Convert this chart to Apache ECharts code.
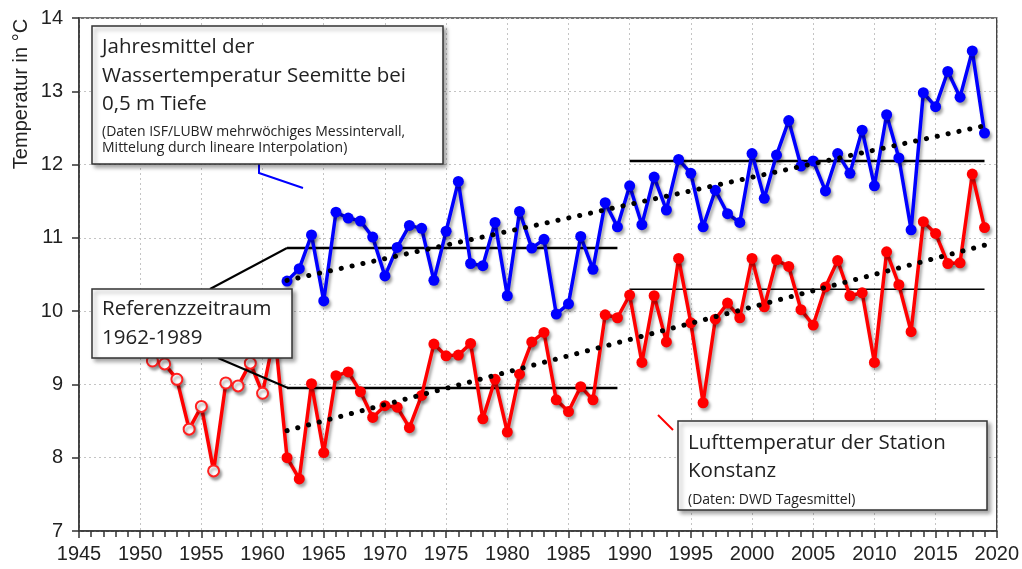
<!DOCTYPE html>
<html>
<head>
<meta charset="utf-8">
<script src="https://cdn.jsdelivr.net/npm/echarts@6/dist/echarts.min.js"></script>
<style>
html,body{margin:0;padding:0;background:#fff;}
#chart{width:1022px;height:569px;}
</style>
</head>
<body>
<div id="chart"></div>
<script>
// ---- data ----
const waterStartYear = 1962;
const waterTemp = [10.41,10.58,11.04,10.14,11.35,11.27,11.23,11.01,10.48,10.87,
  11.17,11.13,10.42,11.09,11.77,10.65,10.62,11.21,10.21,11.36,
  10.86,10.98,9.96,10.10,11.02,10.57,11.48,11.15,11.71,11.18,
  11.83,11.38,12.07,11.88,11.15,11.65,11.33,11.21,12.15,11.54,
  12.13,12.60,11.98,12.05,11.64,12.15,11.88,12.47,11.71,12.68,
  12.09,11.11,12.98,12.79,13.27,12.92,13.55,12.43];
const airStartYear = 1950;
const airTemp = [9.60,9.32,9.28,9.07,8.39,8.70,7.82,9.02,8.98,9.29,
  8.88,9.70,8.00,7.71,9.01,8.07,9.12,9.17,8.90,8.55,
  8.71,8.69,8.41,8.85,9.55,9.39,9.40,9.56,8.53,9.07,
  8.35,9.14,9.58,9.71,8.79,8.63,8.97,8.79,9.95,9.91,
  10.22,9.30,10.21,9.58,10.72,9.84,8.75,9.89,10.11,9.91,
  10.72,10.06,10.70,10.61,10.02,9.81,10.33,10.69,10.21,10.25,
  9.30,10.81,10.36,9.72,11.22,11.06,10.65,10.66,11.87,11.14];
const airFilledFrom = 1962;
const waterTrend = [[1962,10.42],[2019,12.53]];
const airTrend = [[1962,8.37],[2019,10.90]];
const waterRef1 = [[1962,10.86],[1989,10.86]];
const airRef1 = [[1962,8.95],[1989,8.95]];
const waterRef2 = [[1990,12.05],[2019,12.05]];
const airRef2 = [[1990,10.30],[2019,10.30]];
const xTicks = [1945,1950,1955,1960,1965,1970,1975,1980,1985,1990,1995,2000,2005,2010,2015,2020];
const yTicks = [7,8,9,10,11,12,13,14];

// ---- build ----
const waterData = waterTemp.map((v,i)=>[waterStartYear+i, v]);
const airData = airTemp.map((v,i)=>{
  const y = airStartYear+i;
  if (y < airFilledFrom) return {value:[y,v], itemStyle:{color:'#fff', borderColor:'#ff2020', borderWidth:2}};
  return [y,v];
});

const shadow = {shadowColor:'rgba(0,0,0,0.35)', shadowBlur:3, shadowOffsetX:2, shadowOffsetY:3};
const boxFont = '"Open Sans", Lato, sans-serif';
const axisFont = '"Liberation Sans", Arial, sans-serif';

function box(x,y,w,h){
  return {type:'rect', z:100, shape:{x:x,y:y,width:w,height:h},
    style:{fill:'#fff', stroke:'#333', lineWidth:1.5, shadowColor:'rgba(0,0,0,0.35)', shadowBlur:4, shadowOffsetX:3, shadowOffsetY:3}};
}
function txt(x,y,t,size){
  return {type:'text', z:101, x:x, y:y, style:{text:t, font: size+'px '+boxFont, fill:'#222', verticalAlign:'middle'}};
}
function pl(points,color){
  return {type:'polyline', z:99, shape:{points:points}, style:{stroke:color, lineWidth:2, fill:null}};
}

const chart = echarts.init(document.getElementById('chart'));
chart.setOption({
  animation:false,
  grid:{left:79, right:25, top:18, bottom:38, show:true, borderColor:'#444', borderWidth:1.5, backgroundColor:'transparent'},
  xAxis:{type:'value', min:xTicks[0], max:xTicks[xTicks.length-1], interval:5,
    axisLine:{lineStyle:{color:'#333', width:1.5}},
    axisTick:{show:true, length:7, lineStyle:{color:'#333', width:1.5}},
    minorTick:{show:true, splitNumber:5, length:6, lineStyle:{color:'#333', width:1.5}},
    axisLabel:{fontFamily:axisFont, fontSize:20, color:'#222', margin:13, formatter:v=>String(v)},
    splitLine:{show:true, lineStyle:{color:'#c4c4c4', type:[2,3], width:1}}},
  yAxis:{type:'value', min:yTicks[0], max:yTicks[yTicks.length-1], interval:1,
    axisLine:{show:true, lineStyle:{color:'#333', width:1.5}},
    axisTick:{show:true, length:7, lineStyle:{color:'#333', width:1.5}},
    axisLabel:{fontFamily:axisFont, fontSize:20, color:'#222', margin:16, formatter:v=>String(v)},
    splitLine:{show:true, lineStyle:{color:'#c4c4c4', type:[2,3], width:1}}},
  series:[
    {type:'line', data:waterRef1, symbol:'none', lineStyle:{color:'#000', width:2.5}, z:3},
    {type:'line', data:airRef1, symbol:'none', lineStyle:{color:'#000', width:2.5}, z:3},
    {type:'line', data:waterRef2, symbol:'none', lineStyle:{color:'#000', width:2.5}, z:3},
    {type:'line', data:airRef2, symbol:'none', lineStyle:{color:'#000', width:1.5}, z:3},
    {type:'line', data:airData, symbol:'circle', symbolSize:11,
      lineStyle:Object.assign({color:'#ff0000', width:3.5}, shadow),
      itemStyle:Object.assign({color:'#ff0000'}, shadow), z:4},
    {type:'line', data:waterData, symbol:'circle', symbolSize:11,
      lineStyle:Object.assign({color:'#0000ff', width:3.5}, shadow),
      itemStyle:Object.assign({color:'#0000ff'}, shadow), z:4},
    {type:'line', data:waterTrend, symbol:'none', lineStyle:{color:'#000', width:5, type:[0.1,11], cap:'round'}, z:5},
    {type:'line', data:airTrend, symbol:'none', lineStyle:{color:'#000', width:5, type:[0.1,11], cap:'round'}, z:5}
  ],
  graphic:[
    {type:'text', z:101, x:21, y:94, rotation:Math.PI/2,
      style:{text:'Temperatur in °C', font:'20px '+axisFont, fill:'#222', align:'center', verticalAlign:'middle'}},
    pl([[259,164],[259,173],[303,188]], '#0000ff'),
    pl([[210,289],[287,248]], '#000'),
    pl([[218,358],[288,388]], '#000'),
    pl([[658,415],[673,430]], '#ff0000'),
    box(92,26,351,138),
    txt(102,47,'Jahresmittel der',20.5),
    txt(102,76,'Wassertemperatur Seemitte bei',20.5),
    txt(102,104,'0,5 m Tiefe',20.5),
    txt(102,132,'(Daten ISF/LUBW mehrwöchiges Messintervall,',14),
    txt(102,148,'Mittelung durch lineare Interpolation)',14),
    box(92,289,200,69),
    txt(102,309,'Referenzzeitraum',20.5),
    txt(102,338,'1962-1989',20.5),
    box(678,421,309,89),
    txt(688,443,'Lufttemperatur der Station',20.5),
    txt(688,471,'Konstanz',20.5),
    txt(688,500,'(Daten: DWD Tagesmittel)',14)
  ]
});
</script>
</body>
</html>
